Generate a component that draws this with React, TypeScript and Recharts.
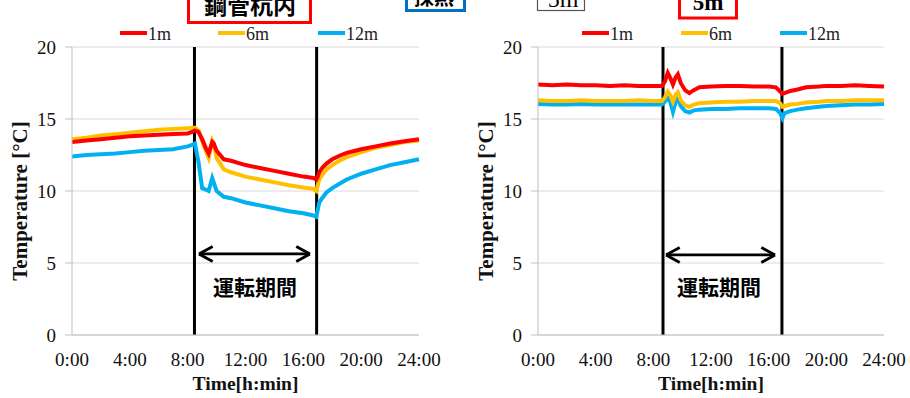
import React from 'react';
import { LineChart, Line, XAxis, YAxis, CartesianGrid, ReferenceLine } from 'recharts';

// ---- Data (time in hours) ----
const timesLeft = [0, 1, 2, 3, 4, 5, 6, 7, 8, 8.3, 8.5, 8.75, 9.0, 9.25, 9.45, 9.7, 9.8, 10.0, 10.5, 11, 12, 13, 14, 15, 16, 16.7, 16.9, 17.0, 17.1, 17.3, 17.6, 18, 18.5, 19, 20, 21, 22, 23, 24];
const left1m = [13.4, 13.5, 13.6, 13.7, 13.8, 13.85, 13.9, 13.95, 14.0, 14.1, 14.2, 14.1, 13.6, 13.0, 12.6, 13.4, 13.3, 12.8, 12.2, 12.1, 11.8, 11.6, 11.4, 11.2, 11.0, 10.9, 10.8, 11.0, 11.3, 11.6, 11.9, 12.2, 12.45, 12.65, 12.9, 13.1, 13.3, 13.45, 13.6];
const left6m = [13.6, 13.7, 13.85, 13.95, 14.05, 14.15, 14.25, 14.3, 14.35, 14.4, 14.4, 14.2, 13.5, 12.8, 12.3, 13.5, 13.3, 12.3, 11.5, 11.3, 11.0, 10.8, 10.6, 10.4, 10.25, 10.15, 10.0, 10.4, 10.8, 11.1, 11.5, 11.8, 12.1, 12.35, 12.7, 13.0, 13.2, 13.4, 13.5];
const left12m = [12.4, 12.5, 12.55, 12.6, 12.7, 12.8, 12.85, 12.9, 13.1, 13.2, 13.3, 12.0, 10.2, 10.1, 10.0, 10.9, 10.6, 10.0, 9.6, 9.5, 9.2, 9.0, 8.8, 8.6, 8.45, 8.3, 8.2, 8.7, 9.2, 9.5, 9.9, 10.2, 10.5, 10.8, 11.2, 11.5, 11.8, 12.0, 12.2];

const timesRight = [0, 1, 2, 3, 4, 5, 6, 7, 8, 8.6, 8.8, 9.0, 9.2, 9.36, 9.55, 9.7, 9.9, 10.2, 10.5, 10.8, 11.2, 12, 13, 14, 15, 16, 16.5, 16.8, 16.95, 17.1, 17.5, 18, 18.6, 19.5, 20, 21, 22, 23, 24];
const right1m = [17.4, 17.35, 17.4, 17.35, 17.35, 17.3, 17.35, 17.3, 17.3, 17.3, 17.6, 18.2, 17.8, 17.4, 17.9, 18.1, 17.5, 17.0, 16.8, 17.0, 17.2, 17.25, 17.3, 17.3, 17.25, 17.25, 17.2, 16.9, 16.75, 16.8, 16.95, 17.05, 17.2, 17.25, 17.3, 17.3, 17.35, 17.3, 17.25];
const right6m = [16.3, 16.25, 16.25, 16.3, 16.25, 16.25, 16.25, 16.3, 16.25, 16.25, 16.5, 16.9, 16.6, 16.2, 16.7, 16.85, 16.3, 15.95, 15.85, 16.0, 16.1, 16.15, 16.2, 16.2, 16.25, 16.25, 16.25, 16.1, 15.85, 15.9, 16.0, 16.05, 16.15, 16.2, 16.25, 16.25, 16.3, 16.3, 16.3];
const right12m = [16.05, 16.0, 16.0, 16.05, 16.0, 16.0, 16.0, 16.0, 16.0, 16.0, 16.2, 16.55, 16.1, 15.5, 16.2, 16.5, 15.9, 15.55, 15.45, 15.6, 15.65, 15.7, 15.7, 15.75, 15.75, 15.75, 15.7, 15.4, 15.05, 15.4, 15.55, 15.65, 15.75, 15.85, 15.9, 15.95, 16.0, 16.0, 16.05];

const seriesNames = ['1m', '6m', '12m'];
const seriesColors = ['#FF0000', '#FFC000', '#00B0F0'];
const xTicks = [0, 4, 8, 12, 16, 20, 24];
const yTicks = [0, 5, 10, 15, 20];
const opLeft = [8.47, 16.92];
const opRight = [8.67, 16.92];
const arrowLeft = { x1: 8.78, x2: 16.46, y: 5.63 };
const arrowRight = { x1: 8.88, x2: 16.44, y: 5.56 };
const periodLabel = '運転期間';

const leftData = timesLeft.map((t, i) => ({ t, s1m: left1m[i], s6m: left6m[i], s12m: left12m[i] }));
const rightData = timesRight.map((t, i) => ({ t, s1m: right1m[i], s6m: right6m[i], s12m: right12m[i] }));

const SERIF = '"Liberation Serif", "Times New Roman", serif';
const CJK = '"Noto Sans CJK JP", "Noto Sans", sans-serif';

function arrowLines(a: { x1: number; x2: number; y: number }, key: string) {
  const hx = 0.95;
  const hy = 0.52;
  const p = { stroke: '#000', strokeWidth: 2.8, ifOverflow: 'visible' as const };
  return [
    <ReferenceLine key={key + 'm'} segment={[{ x: a.x1, y: a.y }, { x: a.x2, y: a.y }]} {...p} />,
    <ReferenceLine key={key + 'l1'} segment={[{ x: a.x1, y: a.y }, { x: a.x1 + hx, y: a.y + hy }]} {...p} />,
    <ReferenceLine key={key + 'l2'} segment={[{ x: a.x1, y: a.y }, { x: a.x1 + hx, y: a.y - hy }]} {...p} />,
    <ReferenceLine key={key + 'r1'} segment={[{ x: a.x2, y: a.y }, { x: a.x2 - hx, y: a.y + hy }]} {...p} />,
    <ReferenceLine key={key + 'r2'} segment={[{ x: a.x2, y: a.y }, { x: a.x2 - hx, y: a.y - hy }]} {...p} />,
  ];
}

function Panel({ data, ops, arrow, marginLeft, marginRight }: any) {
  return (
    <LineChart width={455} height={398} data={data} margin={{ top: 47, right: marginRight, bottom: 0, left: marginLeft }}>
      <CartesianGrid vertical={false} stroke="#d9d9d9" strokeWidth={1.2} />
      <XAxis
        dataKey="t"
        type="number"
        domain={[0, 24]}
        ticks={xTicks}
        tickFormatter={(v: number) => `${v}:00`}
        height={63}
        tickLine={false}
        tickSize={6}
        tickMargin={12}
        stroke="#bfbfbf"
        tick={{ fontSize: 19, fill: '#111', fontFamily: SERIF }}
        interval={0}
        label={{
          content: (p: any) => {
            const vb = p.viewBox || { x: 0, y: 0, width: 0 };
            return (
              <text x={vb.x + vb.width / 2} y={vb.y + 55} textAnchor="middle" fontFamily={SERIF} fontWeight="bold" fontSize={19.5} fill="#111">
                Time[h:min]
              </text>
            );
          },
        }}
      />
      <YAxis
        domain={[0, 20]}
        ticks={yTicks}
        width={72}
        tickSize={7}
        tickMargin={9}
        stroke="#bfbfbf"
        tick={{ fontSize: 19, fill: '#111', fontFamily: SERIF }}
        interval={0}
        label={{
          content: (p: any) => {
            const vb = p.viewBox || { x: 0, y: 0, height: 0 };
            const cx = vb.x + 20;
            const cy = vb.y + vb.height / 2 + 10;
            return (
              <text x={cx} y={cy} transform={`rotate(-90 ${cx} ${cy})`} textAnchor="middle" dominantBaseline="central" fontFamily={SERIF} fontWeight="bold" fontSize={21} fill="#111">
                Temperature [°C]
              </text>
            );
          },
        }}
      />
      {ops.map((x: number, i: number) => (
        <ReferenceLine key={'op' + i} x={x} stroke="#000" strokeWidth={3} />
      ))}
      {arrowLines(arrow, 'a')}
      <Line dataKey="s12m" stroke={seriesColors[2]} strokeWidth={4} dot={false} isAnimationActive={false} />
      <Line dataKey="s6m" stroke={seriesColors[1]} strokeWidth={4} dot={false} isAnimationActive={false} />
      <Line dataKey="s1m" stroke={seriesColors[0]} strokeWidth={4} dot={false} isAnimationActive={false} />
    </LineChart>
  );
}

function Legend({ xs }: { xs: number[] }) {
  return (
    <g>
      {seriesNames.map((n, i) => (
        <g key={n}>
          <line x1={xs[i]} x2={xs[i] + 27} y1={33} y2={33} stroke={seriesColors[i]} strokeWidth={4} />
          <text x={xs[i] + 28} y={39.5} fontFamily={SERIF} fontSize={18} fill="#222">
            {n}
          </text>
        </g>
      ))}
    </g>
  );
}

export default function App() {
  return (
    <div style={{ position: 'absolute', left: 0, top: 0, width: 910, height: 398, overflow: 'hidden', background: '#fff' }}>
      <div style={{ position: 'absolute', left: 0, top: 0 }}>
        <Panel data={leftData} ops={opLeft} arrow={arrowLeft} marginLeft={0} marginRight={36} />
      </div>
      <div style={{ position: 'absolute', left: 455, top: 0 }}>
        <Panel data={rightData} ops={opRight} arrow={arrowRight} marginLeft={11} marginRight={26} />
      </div>
      <svg width={910} height={398} style={{ position: 'absolute', left: 0, top: 0, pointerEvents: 'none' }}>
        <rect x={188.5} y={-20} width={122} height={42.5} fill="#fff" stroke="#ff0000" strokeWidth={3} />
        <text x={250} y={14} textAnchor="middle" fontFamily={CJK} fontWeight="bold" fontSize={23} fill="#000">鋼管杭内</text>
        <rect x={406.5} y={-20} width={58} height={30.5} fill="#fff" stroke="#0070C0" strokeWidth={3} />
        <text x={434} y={5} textAnchor="middle" fontFamily={CJK} fontWeight="bold" fontSize={20} fill="#000">採熱</text>
        <rect x={537.5} y={-20} width={47} height={30.5} fill="#fff" stroke="#555" strokeWidth={1.2} />
        <text x={563} y={7} textAnchor="middle" fontFamily={SERIF} fontSize={24} fill="#000">5m</text>
        <rect x={679.5} y={-20} width={57} height={38} fill="#fff" stroke="#ff0000" strokeWidth={3} />
        <text x={708} y={10} textAnchor="middle" fontFamily={SERIF} fontWeight="bold" fontSize={23} fill="#000">5m</text>
        <Legend xs={[120, 218, 318]} />
        <Legend xs={[582, 681, 780]} />
        <text x={255} y={295} textAnchor="middle" fontFamily={CJK} fontWeight="bold" fontSize={21} fill="#000">{periodLabel}</text>
        <text x={719} y={295} textAnchor="middle" fontFamily={CJK} fontWeight="bold" fontSize={21} fill="#000">{periodLabel}</text>
      </svg>
    </div>
  );
}
